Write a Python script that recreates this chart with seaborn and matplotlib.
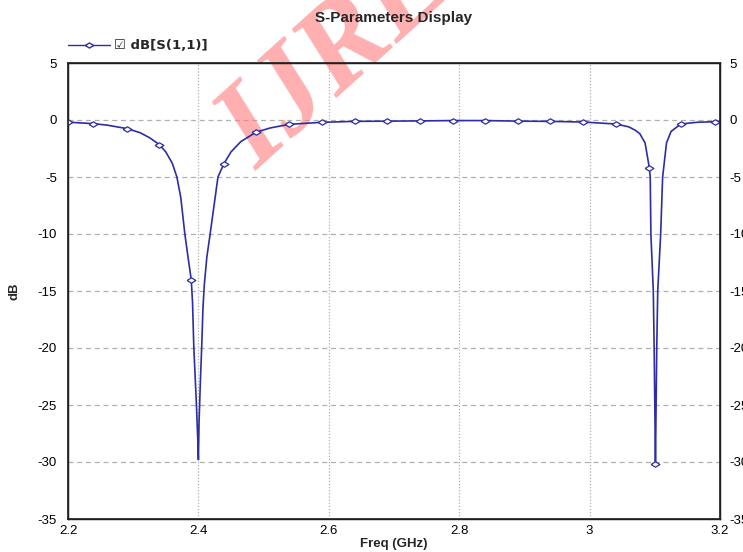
import numpy as np
import pandas as pd
import matplotlib
matplotlib.use("Agg")
import matplotlib.pyplot as plt
from matplotlib.lines import Line2D
import seaborn as sns

# S11 trace (GHz, dB); mark = diamond marker shown
freq = [2.200, 2.239, 2.260, 2.290, 2.310, 2.325, 2.340, 2.350, 2.360, 2.367,
        2.373, 2.379, 2.384, 2.389, 2.391, 2.393, 2.395, 2.397, 2.399, 2.400,
        2.401, 2.403, 2.405, 2.407, 2.409, 2.413, 2.418, 2.424, 2.430, 2.439,
        2.450, 2.465, 2.488, 2.510, 2.539, 2.590, 2.640, 2.690, 2.740, 2.790,
        2.840, 2.890, 2.940, 2.990, 3.040, 3.060, 3.070, 3.077, 3.085, 3.0916,
        3.093, 3.094, 3.0977, 3.099, 3.100, 3.101, 3.102, 3.103, 3.1045, 3.109,
        3.112, 3.118, 3.125, 3.140, 3.165, 3.192, 3.200]
s11_db = [-0.19, -0.32, -0.45, -0.75, -1.10, -1.55, -2.15, -2.80, -3.80, -5.00,
          -6.80, -9.90, -12.0, -14.0, -16.0, -20.0, -22.5, -25.0, -28.0, -29.8,
          -26.5, -23.0, -20.0, -16.5, -14.5, -12.0, -10.0, -7.5, -5.0, -3.85,
          -2.80, -1.90, -1.08, -0.70, -0.38, -0.20, -0.12, -0.10, -0.08, -0.05,
          -0.05, -0.10, -0.12, -0.18, -0.35, -0.60, -0.90, -1.20, -2.00, -4.17,
          -5.0, -10.0, -15.0, -20.0, -25.0, -30.2, -25.0, -20.0, -15.0, -10.0,
          -5.0, -2.0, -1.0, -0.35, -0.20, -0.15, -0.14]
mark = [1, 1, 0, 1, 0, 0, 1, 0, 0, 0,
        0, 0, 0, 1, 0, 0, 0, 0, 0, 0,
        0, 0, 0, 0, 0, 0, 0, 0, 0, 1,
        0, 0, 1, 0, 1, 1, 1, 1, 1, 1,
        1, 1, 1, 1, 1, 0, 0, 0, 0, 1,
        0, 0, 0, 0, 0, 1, 0, 0, 0, 0,
        0, 0, 0, 1, 0, 1, 0]

x_ticks = [2.2, 2.4, 2.6, 2.8, 3.0, 3.2]
x_tick_labels = ["2.2", "2.4", "2.6", "2.8", "3", "3.2"]
y_ticks = [5, 0, -5, -10, -15, -20, -25, -30, -35]

df = pd.DataFrame({"freq": freq, "db": s11_db, "mark": mark})

sns.set_theme(style="white")
plt.rcParams["font.family"] = ["Liberation Sans", "DejaVu Sans"]

line_col = "#2d2da6"
diamond = [(-1, 0), (0, 0.62), (1, 0), (0, -0.62), (-1, 0)]

fig = plt.figure(figsize=(7.43, 5.52), dpi=100)
ax = fig.add_axes([68 / 743, 1 - 519 / 552, (720 - 68) / 743, (519 - 63) / 552])

sns.lineplot(data=df, x="freq", y="db", color=line_col, lw=1.2,
             estimator=None, ax=ax, zorder=3)
sns.scatterplot(data=df[df["mark"] == 1], x="freq", y="db", marker=diamond,
                s=40, facecolor="white", edgecolor=line_col, linewidth=0.9,
                ax=ax, zorder=4)

ax.set_xlim(2.2, 3.2)
ax.set_ylim(-35, 5)
ax.set_xticks(x_ticks)
ax.set_xticklabels(x_tick_labels)
ax.set_yticks(y_ticks)
ax.set_yticklabels([str(v) for v in y_ticks])
ax.tick_params(axis="both", length=0, labelsize=9.5, colors="black")
ax.tick_params(axis="y", pad=8)
ax.tick_params(axis="x", pad=4)

# grid: dashed horizontal, dotted vertical
for v in y_ticks[1:-1]:
    ax.axhline(v, color="#b0b0b0", lw=0.9, ls=(0, (4, 3)), zorder=1)
for v in x_ticks[1:-1]:
    ax.axvline(v, color="#b0b0b0", lw=0.9, ls=(0, (1, 1.5)), zorder=1)

for sp in ax.spines.values():
    sp.set_visible(True)
    sp.set_color("black")
    sp.set_linewidth(1.0)

# duplicate labels on the right (clipped by the figure edge, as in the original)
ax2 = ax.twinx()
ax2.set_ylim(-35, 5)
ax2.set_yticks(y_ticks)
ax2.set_yticklabels([str(v) for v in y_ticks])
ax2.tick_params(axis="y", length=0, labelsize=9.5, pad=7, colors="black")
ax2.grid(False)

ax.set_xlabel("Freq (GHz)", fontsize=9.5, fontweight="bold", labelpad=1)
ax.set_ylabel("dB", fontsize=9.5, fontweight="bold", labelpad=12)

fig.text(394 / 743, 1 - 18 / 552, "S-Parameters Display", ha="center",
         va="center", fontsize=11, fontweight="bold")

handle = Line2D([0], [0], color=line_col, lw=1.0, marker=diamond,
                markersize=6, markerfacecolor="white", markeredgecolor=line_col)
leg = ax.legend([handle], ["\u2611 dB[S(1,1)]"], loc="lower left",
                bbox_to_anchor=(-0.018, 0.997), frameon=False, handlelength=3.2,
                handletextpad=0.3, prop={"weight": "bold", "size": 9.5,
                                         "family": ["DejaVu Sans"]})

# watermark
ax.text(200, 552 - 165, "IJRET", transform=None, rotation=42,
        fontsize=88, fontstyle="italic", fontweight="bold",
        family=["Liberation Serif"], color="#ff7a7a", alpha=0.6,
        ha="left", va="baseline", zorder=2, clip_on=False)

fig.savefig("out.png", dpi=100)
